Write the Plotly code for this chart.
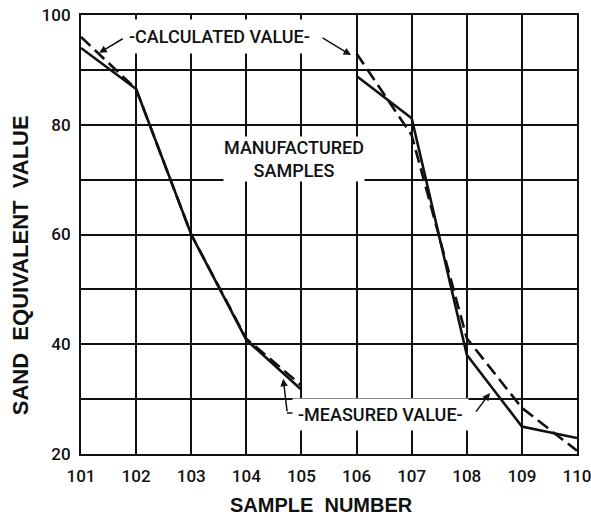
import plotly.graph_objects as go

# Sample numbers for the two test groups
samples_a = [101, 102, 103, 104, 105]
samples_b = [106, 107, 108, 109, 110]

# Sand equivalent values: measured (solid) and calculated (dashed)
measured_a = [94.0, 86.5, 60.0, 40.8, 31.7]
calculated_a = [96.0, 86.5, 60.0, 41.0, 32.5]
measured_b = [88.9, 81.2, 38.1, 25.0, 22.9]
calculated_b = [93.0, 78.1, 41.1, 28.4, 20.6]

# Axis ticks
x_ticks = [101, 102, 103, 104, 105, 106, 107, 108, 109, 110]
x_ticktext = ["101", "102", "103", "104", "105", "106", "107", "108", "109", "110"]
y_ticks = [20, 30, 40, 50, 60, 70, 80, 90, 100]
y_ticktext = ["20", "", "40", "", "60", "", "80", "", "100"]

FONT = "Roboto, Liberation Sans, Arial, sans-serif"
TITLE_FONT = "Liberation Sans, Arial, sans-serif"
INK = "#111111"

fig = go.Figure()

for xs, ys in [(samples_a, measured_a), (samples_b, measured_b)]:
    fig.add_trace(go.Scatter(x=xs, y=ys, mode="lines",
                             line=dict(color=INK, width=2.6),
                             showlegend=False, hoverinfo="skip"))
for xs, ys in [(samples_a, calculated_a), (samples_b, calculated_b)]:
    fig.add_trace(go.Scatter(x=xs, y=ys, mode="lines",
                             line=dict(color=INK, width=2.6, dash="13px,6px"),
                             showlegend=False, hoverinfo="skip"))

label_font = dict(family=FONT, size=18, color=INK, weight=500)

annotations = [
    # text labels
    dict(x=103.52, y=96.05, xref="x", yref="y", text="-CALCULATED VALUE-",
         showarrow=False, font=label_font, bgcolor="white", borderpad=6),
    dict(x=104.865, y=73.67, xref="x", yref="y", text="MANUFACTURED<br>SAMPLES",
         showarrow=False, font=label_font, bgcolor="white", borderpad=0),
    dict(x=106.44, y=27.2, xref="x", yref="y", text="-MEASURED VALUE-",
         showarrow=False, font=label_font, bgcolor="white", borderpad=5),
    # leader arrows
    dict(x=101.33, y=93.1, xref="x", yref="y", ax=25, ay=-15, text="",
         showarrow=True, arrowhead=2, arrowsize=1, arrowwidth=1.5, arrowcolor=INK),
    dict(x=105.90, y=92.7, xref="x", yref="y", ax=-30, ay=-18, text="",
         showarrow=True, arrowhead=2, arrowsize=1, arrowwidth=1.5, arrowcolor=INK),
    dict(x=104.67, y=33.7, xref="x", yref="y", ax=4, ay=34, text="",
         showarrow=True, arrowhead=2, arrowsize=1, arrowwidth=1.5, arrowcolor=INK),
    dict(x=108.42, y=31.1, xref="x", yref="y", ax=-15, ay=20, text="",
         showarrow=True, arrowhead=2, arrowsize=1, arrowwidth=1.5, arrowcolor=INK),
    # axis titles
    dict(x=0.485, y=-0.116, xref="paper", yref="paper",
         text="<b>SAMPLE\u00a0\u00a0NUMBER</b>", showarrow=False,
         font=dict(family=TITLE_FONT, size=20, color=INK), xanchor="center", yanchor="middle"),
    dict(x=-0.123, y=0.43, xref="paper", yref="paper",
         text="<b>SAND\u00a0\u00a0EQUIVALENT\u00a0\u00a0VALUE</b>", showarrow=False,
         textangle=-90, font=dict(family=TITLE_FONT, size=22, color=INK),
         xanchor="center", yanchor="middle"),
]

fig.update_layout(
    width=591, height=520,
    margin=dict(l=81, r=14, t=15, b=66, autoexpand=False),
    paper_bgcolor="white", plot_bgcolor="white",
    font=dict(family=FONT, color=INK),
    annotations=annotations,
    shapes=[
        # short horizontal leader joining the measured-value label
        dict(type="line", xref="paper", yref="paper",
             x0=0.4153, x1=0.4355, y0=0.0934, y1=0.0934,
             line=dict(color=INK, width=1.5)),
    ],
    xaxis=dict(range=[101, 110], tickvals=x_ticks, ticktext=x_ticktext,
               showgrid=True, gridcolor=INK, gridwidth=1.5,
               showline=True, linecolor=INK, linewidth=2, mirror=True,
               ticks="", zeroline=False, ticklabelstandoff=6,
               automargin=False, ticklabeloverflow="allow",
               tickfont=dict(family=FONT, size=17, color=INK, weight=500)),
    yaxis=dict(range=[20, 100], tickvals=y_ticks, ticktext=y_ticktext,
               showgrid=True, gridcolor=INK, gridwidth=1.5,
               showline=True, linecolor=INK, linewidth=2, mirror=True,
               ticks="", zeroline=False, ticklabelstandoff=5,
               automargin=False, ticklabeloverflow="allow",
               tickfont=dict(family=FONT, size=17, color=INK, weight=500)),
)

fig.write_html("out.html")
